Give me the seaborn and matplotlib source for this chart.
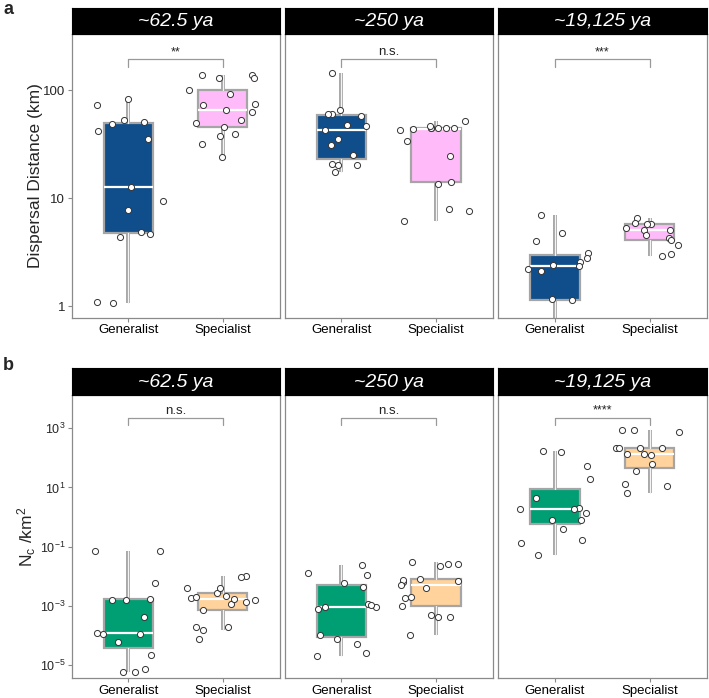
import numpy as np
import pandas as pd
import seaborn as sns
import matplotlib.pyplot as plt
import matplotlib.transforms as mtransforms
from matplotlib.ticker import FixedLocator, NullLocator

# categories / facets
groups = ['Generalist', 'Specialist']
periods = ['~62.5 ya', '~250 ya', '~19,125 ya']

# panel a: dispersal distance (km)
disp_gen_62 = [42, 35, 53, 51, 9.4, 12.6, 83, 73, 49, 7.8, 4.9, 4.7, 4.4, 1.09, 1.07]
disp_spe_62 = [137, 137, 129, 130, 100, 91, 74, 73, 65, 63, 50, 45.5, 53, 39, 38, 32, 24]
disp_gen_250 = [145, 65, 60, 47, 57.6, 59.6, 48, 43, 35, 30.8, 25, 20.8, 20.4, 20.4, 17.3]
disp_spe_250 = [52, 44, 44.5, 44.5, 44.5, 44.5, 44.5, 46.4, 43, 33.7, 14.2, 13.4, 24.8, 7.6, 7.9, 6.1]
disp_gen_19k = [6.97, 4.8, 4.0, 3.14, 2.8, 2.57, 2.43, 2.36, 2.23, 2.12, 1.16, 1.15, 0.65, 0.5, 0.35]
disp_spe_19k = [6.5, 5.9, 5.3, 5.06, 4.54, 4.29, 4.14, 5.75, 5.83, 5.13, 3.73, 2.92, 3.07]

# panel b: Nc / km^2
nc_gen_62 = [0.0716, 0.073, 5.8e-3, 1.55e-3, 1.6e-3, 1.7e-3, 4.3e-4, 1.15e-4, 1.1e-4, 1.24e-4,
             6.2e-5, 2.2e-5, 6e-6, 6e-6, 7.3e-6]
nc_spe_62 = [0.0102, 9.2e-3, 3.9e-3, 2.8e-3, 4.1e-3, 1.8e-3, 2.2e-3, 1.19e-3, 1.39e-3, 1.55e-3,
             2.0e-3, 7.2e-4, 1.67e-3, 2.0e-4, 1.5e-4, 1.9e-4, 7.6e-5]
nc_gen_250 = [0.0234, 0.011, 0.0126, 5.8e-3, 4.4e-3, 9e-4, 9e-4, 7.7e-4, 1.13e-3, 1.07e-3,
              1.07e-4, 7.4e-5, 5.2e-5, 2.6e-5, 2.0e-5]
nc_spe_250 = [0.0267, 0.0267, 0.0224, 0.031, 6.5e-3, 8.1e-3, 6.8e-3, 7.3e-3, 5.1e-3, 4.1e-3,
              1.86e-3, 1.95e-3, 9.8e-4, 4.2e-4, 4.2e-4, 4.8e-4, 1.05e-4]
nc_gen_19k = [171, 162, 52, 18.9, 4.5, 1.83, 2.03, 1.38, 0.8, 1.83, 0.82, 0.40, 0.164, 0.13, 0.051]
nc_spe_19k = [877, 856, 750, 211, 216, 221, 211, 132, 132, 125, 64, 35, 11.2, 13.5, 6.7]

sig_disp = ['**', 'n.s.', '***']
sig_nc = ['n.s.', 'n.s.', '****']

disp_ticks = [1, 10, 100]
disp_ticklabels = ['1', '10', '100']
nc_ticks = [1e-5, 1e-3, 1e-1, 1e1, 1e3]
nc_ticklabels = [r'$\mathregular{10^{-5}}$', r'$\mathregular{10^{-3}}$', r'$\mathregular{10^{-1}}$',
                 r'$\mathregular{10^{1}}$', r'$\mathregular{10^{3}}$']

sns.set_style('white')
plt.rcParams['font.family'] = ['Liberation Sans', 'DejaVu Sans']
plt.rcParams['mathtext.fontset'] = 'custom'
plt.rcParams['mathtext.rm'] = 'Liberation Sans'
plt.rcParams['mathtext.it'] = 'Liberation Sans:italic'

np.random.seed(7)

W, H = 709, 698
fig = plt.figure(figsize=(W / 100, H / 100), dpi=100)

panel_x = [(71.5, 279.5), (284.5, 493), (498, 706.5)]
grey = '#a5a5a5'


def px_axes(x0, x1, ytop, ybot):
    return fig.add_axes([x0 / W, 1 - ybot / H, (x1 - x0) / W, (ybot - ytop) / H])


def draw_row(data_sets, colors, sigs, strip_top, plot_top, plot_bot, ylim, ticks, ticklabels,
             ylabel, label_x, sig_y, tick_fs):
    axes = []
    for i, (gen, spe) in enumerate(data_sets):
        x0, x1 = panel_x[i]
        df = pd.DataFrame({'group': ['Generalist'] * len(gen) + ['Specialist'] * len(spe),
                           'value': gen + spe})
        ax = px_axes(x0, x1, plot_top, plot_bot)
        sns.boxplot(data=df, x='group', y='value', hue='group', order=groups, hue_order=groups,
                    palette=colors, saturation=1, width=0.52, log_scale=True, legend=False,
                    linecolor=grey, linewidth=1.6, showcaps=False, showfliers=False, ax=ax)
        # median white, whiskers drawn as a double line like the original
        for ln in list(ax.lines):
            xd = ln.get_xdata()
            if xd[0] != xd[1]:
                ln.set_color('white')
                ln.set_linewidth(1.6)
                ln.set_zorder(3)
            else:
                ln.set_linewidth(2.8)
                ax.plot(xd, ln.get_ydata(), color='#f4f4f4', lw=0.9, zorder=ln.get_zorder() + 0.1)
        sns.stripplot(data=df, x='group', y='value', order=groups, log_scale=True, jitter=0.38,
                      color='white', edgecolor='#333333', linewidth=0.7, size=4.4, ax=ax, zorder=4)
        ax.set_xlim(-0.6, 1.6)
        ax.set_ylim(*ylim)
        ax.set_xlabel('')
        ax.set_ylabel('')
        for s in ax.spines.values():
            s.set_color('#8a8a8a')
            s.set_linewidth(0.9)
        ax.tick_params(axis='x', bottom=True, length=3, width=0.8, color='#8a8a8a',
                       labelsize=9.5, pad=1.5, labelcolor='black')
        ax.yaxis.set_minor_locator(NullLocator())
        if i == 0:
            ax.yaxis.set_major_locator(FixedLocator(ticks))
            ax.set_yticklabels(ticklabels)
            ax.tick_params(axis='y', left=True, length=3, width=0.8, color='#8a8a8a',
                           labelsize=tick_fs, pad=1.5)
            ax.set_ylabel(ylabel, fontsize=12.5)
            ax.yaxis.set_label_coords(label_x, 0.5)
        else:
            ax.tick_params(axis='y', left=False, labelleft=False)

        # significance bracket
        trans = mtransforms.blended_transform_factory(ax.transData, ax.transAxes)
        yb, yt = sig_y
        ax.plot([0, 0, 1, 1], [yt, yb, yb, yt], color='#999999', lw=0.9, transform=trans,
                clip_on=False)
        fs = 9.5 if sigs[i] == 'n.s.' else 9
        ax.text(0.5, yb + 0.004, sigs[i], ha='center', va='bottom', fontsize=fs, transform=trans,
                color='#222222')

        # facet strip
        sax = px_axes(x0, x1, strip_top, plot_top)
        sax.set_facecolor('black')
        sax.set_xticks([])
        sax.set_yticks([])
        for s in sax.spines.values():
            s.set_color('black')
        sax.text(0.5, 0.47, periods[i], ha='center', va='center', color='white',
                 fontsize=14, style='italic', transform=sax.transAxes)
        axes.append(ax)
    return axes


draw_row([(disp_gen_62, disp_spe_62), (disp_gen_250, disp_spe_250), (disp_gen_19k, disp_spe_19k)],
         ['#104E8B', '#FFBBF9'], sig_disp, 8, 34, 318, (0.78, 330), disp_ticks, disp_ticklabels,
         'Dispersal Distance (km)', -0.135, (0.911, 0.885), 9.5)

draw_row([(nc_gen_62, nc_spe_62), (nc_gen_250, nc_spe_250), (nc_gen_19k, nc_spe_19k)],
         ['#009E73', '#FFD39B'], sig_nc, 368, 395, 678.3, (10 ** -5.446, 10 ** 4.125),
         nc_ticks, nc_ticklabels, r'N$_\mathregular{c}$ /km$^\mathregular{2}$', -0.162,
         (0.92, 0.894), 9)

fig.text(3 / W, 1 - 9 / H, 'a', fontsize=13, fontweight='bold', va='center', ha='left')
fig.text(3 / W, 1 - 366 / H, 'b', fontsize=13, fontweight='bold', va='center', ha='left')

fig.savefig('out.png', dpi=100)
